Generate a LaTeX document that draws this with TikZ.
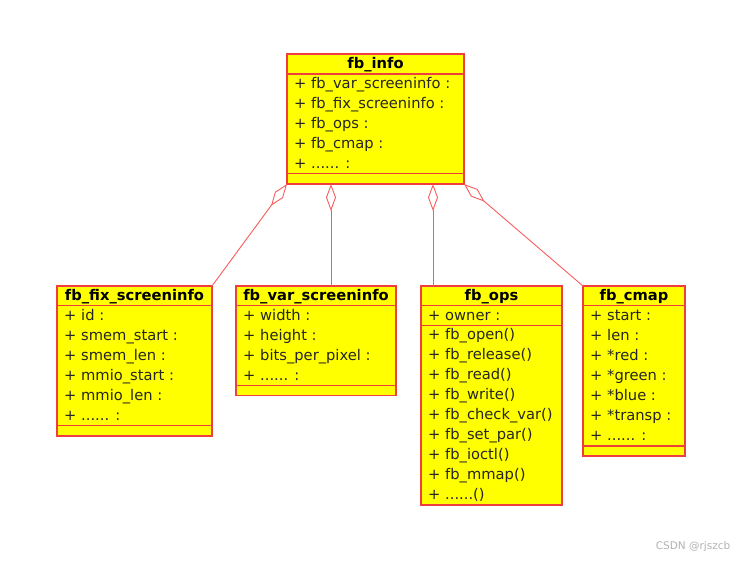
\documentclass[tikz,border=0pt]{standalone}
\usepackage{fontspec}
\setmainfont{DejaVu Sans}
\usetikzlibrary{arrows.meta}
\definecolor{umlfill}{RGB}{255,255,0}
\definecolor{umlline}{RGB}{238,62,62}
\definecolor{connline}{RGB}{248,92,92}
\newcommand\umldots{......}
\begin{document}
\begin{tikzpicture}[x=1pt,y=-1pt,
 classbox/.style={draw=umlline, fill=umlfill, line width=1.3pt, inner sep=0pt, outer sep=0pt, anchor=north west},
 rowtext/.style={anchor=base west, inner sep=0pt, font=\fontsize{14.7}{17}\selectfont, text=black!85},
 titletext/.style={anchor=base, inner sep=0pt, font=\fontsize{14.7}{17}\selectfont\bfseries},
 sepline/.style={draw=umlline, line width=1.3pt},
 agg/.style={draw=connline, line width=0.9pt, {Diamond[open, length=27pt, width=10pt, line width=0.9pt]}-},
]
\path[fill=white] (0,0) rectangle (751,560);
\useasboundingbox (0,0) rectangle (751,560);

% fb_info
\node[classbox, minimum width=177pt, minimum height=130pt] (info) at (287,54) {};
\node[titletext] (info-t) at (375.5,68.5) {fb\_info};
\draw[sepline] (287,74) -- (464,74);
\draw[sepline] (287,173.5) -- (464,173.5);
\foreach \t [count=\i from 0] in {{+ fb\_var\_screeninfo :}, {+ fb\_fix\_screeninfo :}, {+ fb\_ops :}, {+ fb\_cmap :}, {+ \umldots{} :}}
  \node[rowtext] (info-r\i) at (294,88.5+20*\i) {\t};

% fb_fix_screeninfo
\node[classbox, minimum width=155pt, minimum height=150pt] (fix) at (57,286) {};
\node[titletext] (fix-t) at (134.5,300.5) {fb\_fix\_screeninfo};
\draw[sepline] (57,305.5) -- (212,305.5);
\draw[sepline] (57,425.5) -- (212,425.5);
\foreach \t [count=\i from 0] in {{+ id :}, {+ smem\_start :}, {+ smem\_len :}, {+ mmio\_start :}, {+ mmio\_len :}, {+ \umldots{} :}}
  \node[rowtext] (fix-r\i) at (64,320+20*\i) {\t};

% fb_var_screeninfo
\node[classbox, minimum width=160pt, minimum height=109.5pt] (var) at (236,286) {};
\node[titletext] (var-t) at (316,300.5) {fb\_var\_screeninfo};
\draw[sepline] (236,305.5) -- (396,305.5);
\draw[sepline] (236,385.5) -- (396,385.5);
\foreach \t [count=\i from 0] in {{+ width :}, {+ height :}, {+ bits\_per\_pixel :}, {+ \umldots{} :}}
  \node[rowtext] (var-r\i) at (243,320+20*\i) {\t};

% fb_ops
\node[classbox, minimum width=141pt, minimum height=219pt] (ops) at (421,286) {};
\node[titletext] (ops-t) at (491.5,300.5) {fb\_ops};
\draw[sepline] (421,305.5) -- (562,305.5);
\draw[sepline] (421,325.5) -- (562,325.5);
\node[rowtext] (ops-a0) at (428,320) {+ owner :};
\foreach \t [count=\i from 0] in {{+ fb\_open()}, {+ fb\_release()}, {+ fb\_read()}, {+ fb\_write()}, {+ fb\_check\_var()}, {+ fb\_set\_par()}, {+ fb\_ioctl()}, {+ fb\_mmap()}, {+ \umldots()}}
  \node[rowtext] (ops-m\i) at (428,339.5+20*\i) {\t};

% fb_cmap
\node[classbox, minimum width=102pt, minimum height=170pt] (cmap) at (583,286) {};
\node[titletext] (cmap-t) at (634,300.5) {fb\_cmap};
\draw[sepline] (583,305.5) -- (685,305.5);
\draw[sepline] (583,446) -- (685,446);
\foreach \t [count=\i from 0] in {{+ start :}, {+ len :}, {+ *red :}, {+ *green :}, {+ *blue :}, {+ *transp :}, {+ \umldots{} :}}
  \node[rowtext] (cmap-r\i) at (590,320+20*\i) {\t};

% aggregations
\coordinate (a2) at (331,184);
\coordinate (a3) at (433,184);
\draw[agg] (info.south west) -- (fix.north east);
\draw[agg] (a2) -- (a2 |- var.north);
\draw[agg] (a3) -- (a3 |- ops.north);
\draw[agg] (info.south east) -- (cmap.north west);

% watermark
\node[font=\fontsize{10.5}{12}\selectfont, text=black!30, inner sep=0pt] (wm) at (693,547) {CSDN @rjszcb};
\end{tikzpicture}
\end{document}
